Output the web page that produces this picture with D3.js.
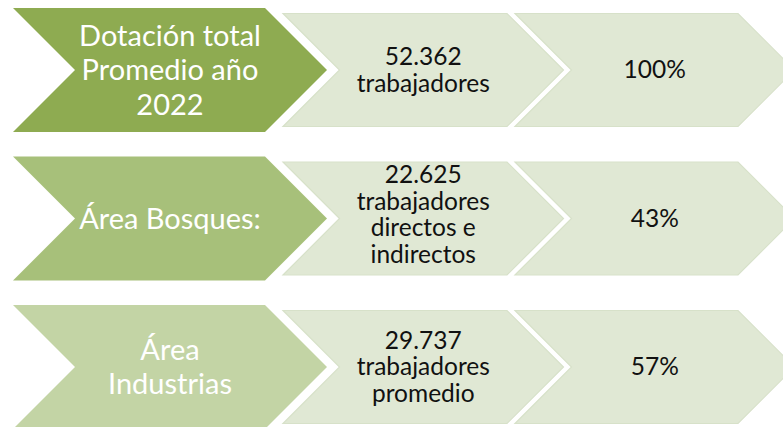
<!DOCTYPE html>
<html>
<head>
<meta charset="utf-8">
<script src="https://cdn.jsdelivr.net/npm/d3@7/dist/d3.min.js"></script>
<style>
  html, body { margin: 0; padding: 0; background: #fff; }
  svg { display: block; }
</style>
</head>
<body>
<svg id="chart" width="783" height="427"></svg>
<script>
// ---- data ----
const categories = ["Dotación total\nPromedio año\n2022", "Área Bosques:", "Área\nIndustrias"];
const workers = ["52.362\ntrabajadores", "22.625\ntrabajadores\ndirectos e\nindirectos", "29.737\ntrabajadores\npromedio"];
const shares = ["100%", "43%", "57%"];
const headColors = ["#8eab51", "#a7c07a", "#c3d4a5"];

// ---- layout ----
const W = 783, H = 427;
const svg = d3.select("#chart");
const y = d3.scalePoint().domain(d3.range(categories.length)).range([70, 367]);

const big = { x0: 13, x1: 265, half: 62 };
const small = [{ x0: 283, x1: 507, half: 56.5 }, { x0: 515, x1: 738, half: 56.5 }];

function chevron(x0, x1, cy, half) {
  const p = d3.path();
  p.moveTo(x0, cy - half);
  p.lineTo(x1, cy - half);
  p.lineTo(x1 + half, cy);
  p.lineTo(x1, cy + half);
  p.lineTo(x0, cy + half);
  p.lineTo(x0 + half, cy);
  p.closePath();
  return p.toString();
}

function multiline(g, text, cx, cy, size, lh, color, capRatio) {
  const lines = text.split("\n");
  const n = lines.length;
  const cap = size * capRatio;
  const shift = n > 3 ? -4 : 0;
  const firstBase = cy + shift + cap / 2 - (n - 1) * lh / 2;
  const t = g.append("text")
    .attr("text-anchor", "middle")
    .attr("fill", color)
    .style("font-family", "Lato, 'Open Sans', sans-serif")
    .style("font-size", size + "px");
  lines.forEach((l, i) => {
    t.append("tspan").attr("x", cx).attr("y", firstBase + i * lh).text(l);
  });
}

const rows = svg.selectAll("g.row").data(categories).join("g").attr("class", "row");

rows.each(function (d, i) {
  const g = d3.select(this);
  const cy = y(i);
  // light chevrons
  small.forEach((s, k) => {
    g.append("path")
      .attr("d", chevron(s.x0, s.x1, cy, s.half))
      .attr("fill", "#e0e8d4")
      .attr("stroke", "#d7e1c9")
      .attr("stroke-width", 1.2);
  });
  // head chevron
  g.append("path")
    .attr("d", chevron(big.x0, big.x1, cy, big.half))
    .attr("fill", headColors[i]);

  multiline(g, d, (big.x0 + big.half + big.x1) / 2, cy, 29, 34.5, "#ffffff", 0.70);
  multiline(g, workers[i], (small[0].x0 + small[0].half + small[0].x1) / 2, cy, 24.5, 26.5, "#111111", 0.68);
  multiline(g, shares[i], (small[1].x0 + small[1].half + small[1].x1) / 2, cy, 24.5, 26.5, "#111111", 0.68);
});
</script>
</body>
</html>
